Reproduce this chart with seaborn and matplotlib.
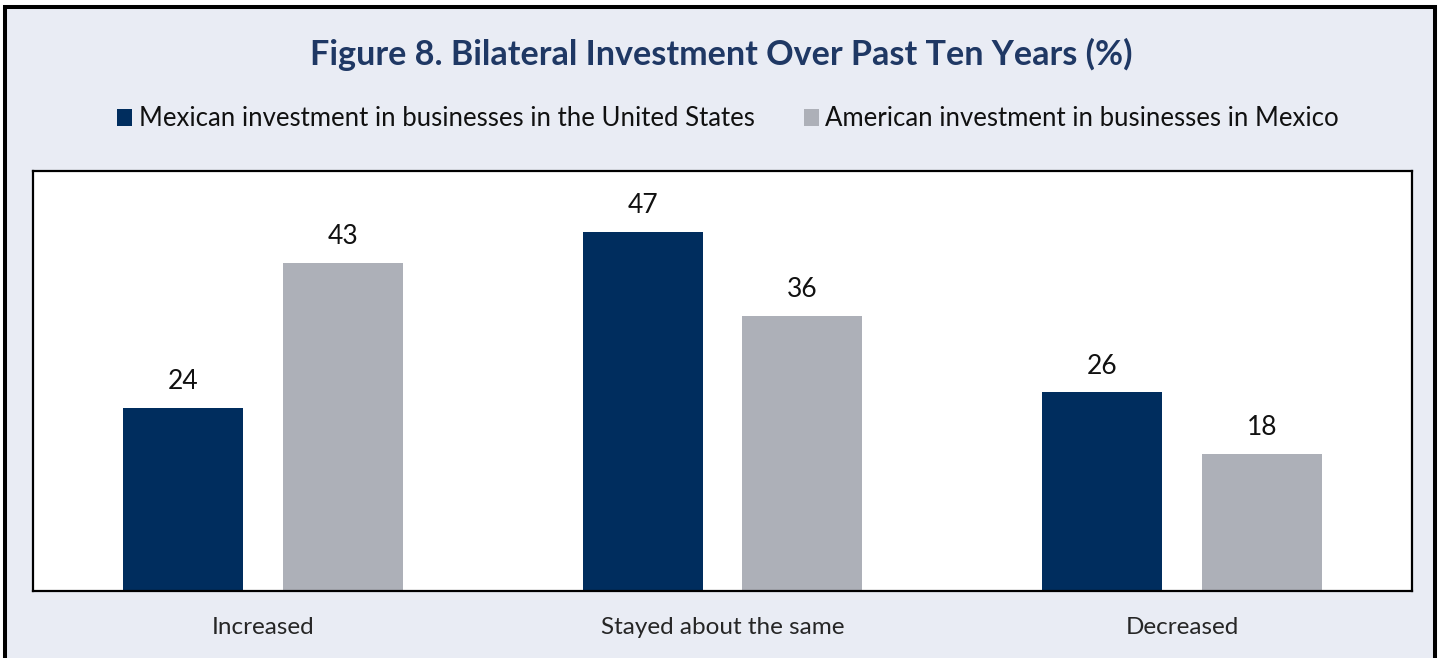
import matplotlib
matplotlib.use("Agg")
import matplotlib.pyplot as plt
from matplotlib.patches import Rectangle
import seaborn as sns
import pandas as pd

categories = ["Increased", "Stayed about the same", "Decreased"]
series_names = ["Mexican investment in businesses in the United States",
                "American investment in businesses in Mexico"]
mexican_in_us = [24, 47, 26]
american_in_mexico = [43, 36, 18]

NAVY = "#002D5E"
GREY = "#ADB0B8"
PANEL = "#E9ECF4"
TITLE_COLOR = "#1F3864"
FONT = "Lato"

df = pd.DataFrame({
    "category": categories * 2,
    "series": [series_names[0]] * 3 + [series_names[1]] * 3,
    "value": mexican_in_us + american_in_mexico,
})

sns.set_theme(style="white")
plt.rcParams["font.family"] = [FONT, "DejaVu Sans"]

W, H = 1445, 658
fig = plt.figure(figsize=(W / 100, H / 100), dpi=100, facecolor="white")

# framed light panel behind everything
fig.patches.append(Rectangle((5 / W, -0.02), 1429.5 / W, 1.02 - 6.5 / H,
                             transform=fig.transFigure, facecolor=PANEL,
                             edgecolor="black", linewidth=2.9, zorder=-5))

ax = fig.add_axes([33 / W, 1 - 591 / H, (1412 - 33) / W, (591 - 171) / H])
sns.barplot(data=df, x="category", y="value", hue="series",
            order=categories, hue_order=series_names,
            palette=[NAVY, GREY], width=0.696, gap=0.25,
            saturation=1, ax=ax, edgecolor="none")

ax.set_facecolor("white")
ax.set_xlim(-0.5, 2.5)
ax.set_ylim(0, 55)
ax.set_xlabel("")
ax.set_ylabel("")
ax.set_yticks([])
ax.tick_params(axis="x", length=0, pad=19, labelsize=17.5, labelcolor="#262626")
for s in ax.spines.values():
    s.set_visible(True)
    s.set_color("black")
    s.set_linewidth(1.6)

for cont in ax.containers:
    ax.bar_label(cont, fmt="%d", padding=10, fontsize=19, color="#111111")

sns.move_legend(ax, "center", bbox_to_anchor=(728 / W, 1 - 119 / H),
                bbox_transform=fig.transFigure, ncol=2, frameon=False,
                title=None, fontsize=18.5, handlelength=0.6, handleheight=0.6,
                handletextpad=0.25, columnspacing=1.9)
for t in ax.get_legend().get_texts():
    t.set_color("#111111")

fig.text(721 / W, 1 - 54 / H, "Figure 8. Bilateral Investment Over Past Ten Years (%)",
         ha="center", va="center", fontsize=24.6, fontweight="bold",
         color=TITLE_COLOR)

fig.savefig("out.png", dpi=100, facecolor=fig.get_facecolor())
